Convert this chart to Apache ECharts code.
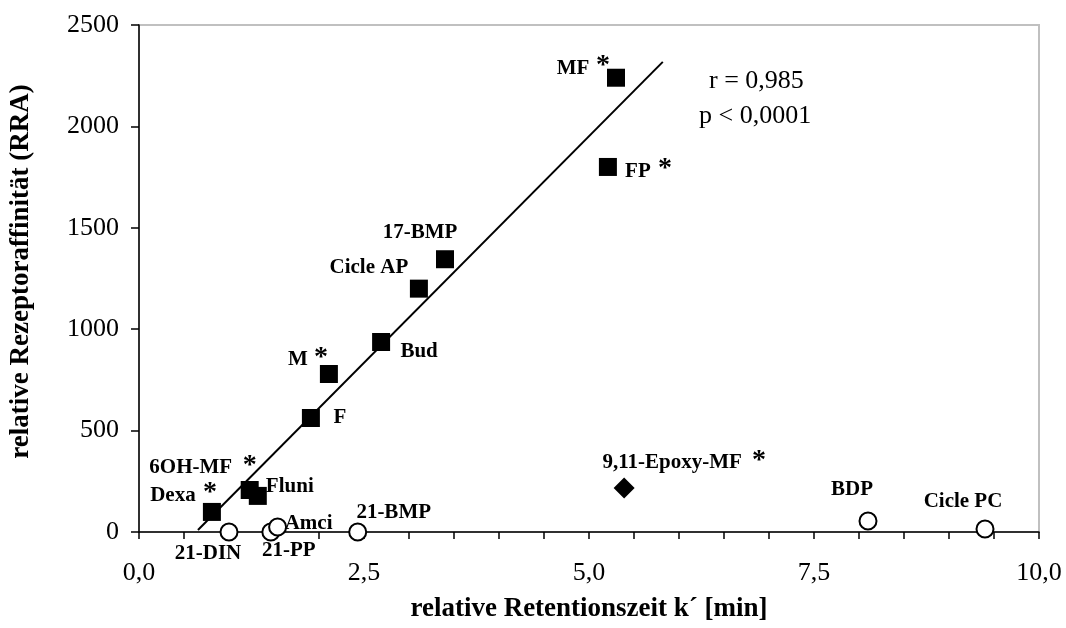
<!DOCTYPE html>
<html>
<head>
<meta charset="utf-8">
<script src="https://cdn.jsdelivr.net/npm/echarts@6/dist/echarts.min.js"></script>
<style>html,body{margin:0;padding:0;background:#fff;}#c{width:1066px;height:628px;}</style>
</head>
<body>
<div id="c"></div>
<script>
// ---- data ----
const squareNames = ['MF','FP','17-BMP','Cicle AP','Bud','M','F','6OH-MF','Fluni','Dexa'];
const squareK     = [5.30, 5.21, 3.40, 3.11, 2.69, 2.11, 1.91, 1.23, 1.32, 0.81];
const squareRRA   = [2240, 1800, 1345, 1200, 937, 779, 562, 207, 178, 99];
const squareStar  = [true, true, false, false, false, true, false, true, false, true];

const diamondNames = ['9,11-Epoxy-MF'];
const diamondK     = [5.39];
const diamondRRA   = [217];
const diamondStar  = [true];

const circleNames = ['21-DIN','21-PP','Amci','21-BMP','BDP','Cicle PC'];
const circleK     = [1.00, 1.465, 1.54, 2.43, 8.10, 9.40];
const circleRRA   = [0, 0, 25, 0, 54, 15];

const fitK   = [0.655, 5.82];
const fitRRA = [10, 2318];

const xTicks = [0, 2.5, 5, 7.5, 10];
const yTicks = [0, 500, 1000, 1500, 2000, 2500];
const statsText = ['r = 0,985', 'p < 0,0001'];

// ---- styling (label offsets in pixels) ----
const FONT = "'Liberation Serif','Times New Roman',serif";
const labelOffsets = {
  'MF': [-43, -9], 'FP': [30, 5], '17-BMP': [-25, -27], 'Cicle AP': [-50, -21],
  'Bud': [38, 10], 'M': [-31, -14], 'F': [29, 0], '6OH-MF': [-59, -22],
  'Fluni': [32, -9], 'Dexa': [-39, -16], '9,11-Epoxy-MF': [48, -25],
  '21-DIN': [-21, 22], '21-PP': [18, 19], 'Amci': [31, -3], '21-BMP': [36, -19],
  'BDP': [-16, -31], 'Cicle PC': [-22, -27]
};
const starOffsets = {
  'MF': [-13, -18], 'FP': [57, -4], 'M': [-8, -22], '6OH-MF': [0, -30],
  'Dexa': [-2, -25], '9,11-Epoxy-MF': [135, -33]
};
const STAR_SHIFT = 6;

function items(names, xs, ys) {
  return names.map((n, i) => ({
    name: n, value: [xs[i], ys[i]],
    label: { offset: labelOffsets[n] }
  }));
}
function starItems(names, xs, ys, flags) {
  const out = [];
  names.forEach((n, i) => {
    if (flags[i]) {
      const o = starOffsets[n];
      out.push({ name: n, value: [xs[i], ys[i]], label: { offset: [o[0], o[1] + STAR_SHIFT] } });
    }
  });
  return out;
}
const ptLabel = {
  show: true, position: 'inside', formatter: '{b}',
  fontFamily: FONT, fontWeight: 'bold', fontSize: 21, color: '#000',
  align: 'center', verticalAlign: 'middle'
};
const starLabel = {
  show: true, position: 'inside', formatter: '*',
  fontFamily: FONT, fontWeight: 'bold', fontSize: 28, color: '#000',
  align: 'center', verticalAlign: 'middle'
};
const fmt = v => (Math.round(v * 10) / 10).toFixed(1).replace('.', ',');

const chart = echarts.init(document.getElementById('c'), null, { renderer: 'canvas' });
const starsAll = starItems(squareNames, squareK, squareRRA, squareStar)
  .concat(starItems(diamondNames, diamondK, diamondRRA, diamondStar));

chart.setOption({
  animation: false,
  backgroundColor: '#fff',
  grid: { left: 138, right: 27, top: 25, bottom: 96, show: true, borderColor: '#c0c0c0', borderWidth: 2 },
  xAxis: {
    type: 'value', min: xTicks[0], max: xTicks[xTicks.length - 1], interval: xTicks[1] - xTicks[0],
    name: 'relative Retentionszeit k´ [min]', nameLocation: 'middle', nameGap: 64,
    nameTextStyle: { fontFamily: FONT, fontWeight: 'bold', fontSize: 27, color: '#000' },
    axisLine: { show: true, onZero: false, lineStyle: { color: '#000', width: 1.5 } },
    axisTick: { show: true, length: 7, inside: false, lineStyle: { color: '#000', width: 1.5 } },
    minorTick: { show: true, splitNumber: 5, length: 7, lineStyle: { color: '#000', width: 1.5 } },
    splitLine: { show: false },
    axisLabel: { formatter: fmt, fontFamily: FONT, fontSize: 26, color: '#000', margin: 28 }
  },
  yAxis: {
    type: 'value', min: yTicks[0], max: yTicks[yTicks.length - 1], interval: yTicks[1] - yTicks[0],
    name: 'relative Rezeptoraffinität (RRA)', nameLocation: 'middle', nameGap: 104, nameRotate: 90,
    nameTextStyle: { fontFamily: FONT, fontWeight: 'bold', fontSize: 27, color: '#000', padding: [0, 0, 0, 14] },
    axisLine: { show: true, onZero: false, lineStyle: { color: '#000', width: 1.5 } },
    axisTick: { show: true, length: 8, inside: false, lineStyle: { color: '#000', width: 1.5 } },
    splitLine: { show: false },
    axisLabel: { formatter: v => String(v), fontFamily: FONT, fontSize: 26, color: '#000', margin: 20 }
  },
  series: [
    {
      type: 'line', data: fitK.map((k, i) => [k, fitRRA[i]]), symbol: 'none',
      lineStyle: { color: '#000', width: 2 }, z: 1, silent: true
    },
    {
      type: 'scatter', symbol: 'rect', symbolSize: 18,
      itemStyle: { color: '#000', opacity: 1 }, label: ptLabel,
      data: items(squareNames, squareK, squareRRA), z: 3
    },
    {
      type: 'scatter', symbol: 'diamond', symbolSize: [21, 21],
      itemStyle: { color: '#000', opacity: 1 }, label: ptLabel,
      data: items(diamondNames, diamondK, diamondRRA), z: 3
    },
    {
      type: 'scatter', symbol: 'circle', symbolSize: 17,
      itemStyle: { color: '#fff', borderColor: '#000', borderWidth: 2, opacity: 1 }, label: ptLabel,
      data: items(circleNames, circleK, circleRRA), z: 3
    },
    {
      type: 'scatter', symbol: 'circle', symbolSize: 1,
      itemStyle: { color: 'rgba(0,0,0,0)', opacity: 1 }, label: starLabel,
      data: starsAll, z: 4, silent: true
    }
  ],
  graphic: [
    { type: 'text', left: 709, top: 68, style: { text: statsText[0], font: "26px " + FONT, fill: '#000' } },
    { type: 'text', left: 699, top: 103, style: { text: statsText[1], font: "26px " + FONT, fill: '#000' } }
  ]
});
</script>
</body>
</html>
